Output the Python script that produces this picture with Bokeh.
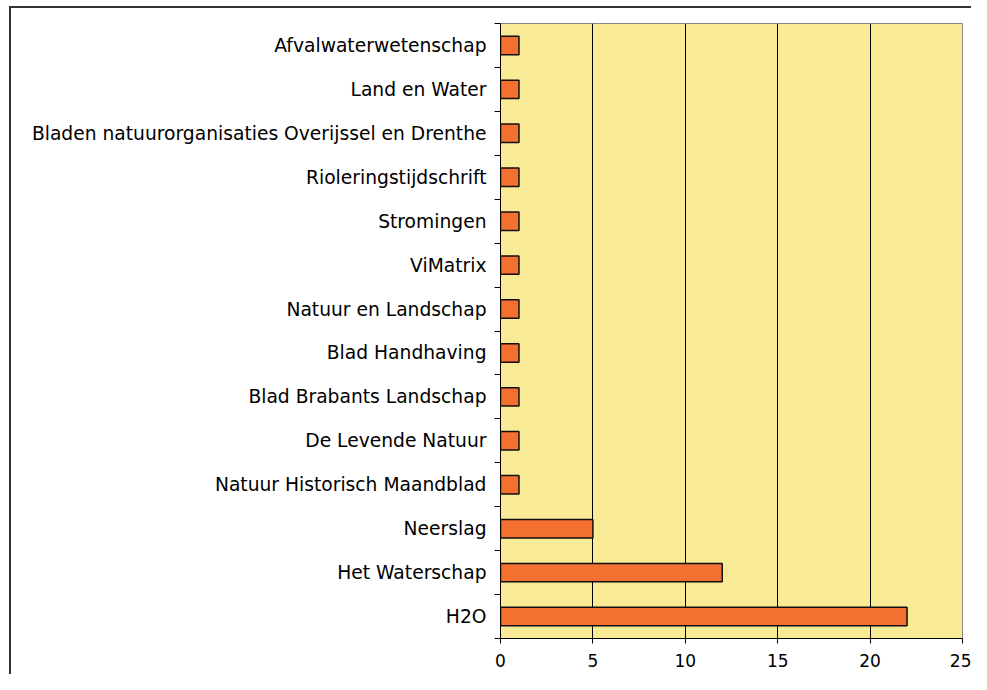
from bokeh.plotting import figure
from bokeh.models import FixedTicker, Range1d, ColumnDataSource
from bokeh.embed import file_html
from bokeh.resources import INLINE

categories = [
    "Afvalwaterwetenschap",
    "Land en Water",
    "Bladen natuurorganisaties Overijssel en Drenthe",
    "Rioleringstijdschrift",
    "Stromingen",
    "ViMatrix",
    "Natuur en Landschap",
    "Blad Handhaving",
    "Blad Brabants Landschap",
    "De Levende Natuur",
    "Natuur Historisch Maandblad",
    "Neerslag",
    "Het Waterschap",
    "H2O",
]
values = [1, 1, 1, 1, 1, 1, 1, 1, 1, 1, 1, 5, 12, 22]
x_ticks = [0, 5, 10, 15, 20, 25]

n = len(categories)
# top category first -> highest y position
ypos = [n - 1 - i + 0.5 for i in range(n)]
src = ColumnDataSource(dict(y=ypos, v=values, cat=categories))

FONT = "DejaVu Sans"

p = figure(width=971, height=674, output_backend="svg", toolbar_location=None,
           x_range=Range1d(0, 25), y_range=Range1d(0, n),
           min_border_left=500, min_border_right=9, min_border_top=23,
           min_border_bottom=36)

# outer chart border (only left and top edges fall inside the window)
p.styles = {
    "background": ("linear-gradient(#333,#333) 9px 6px / 2px 2000px no-repeat, "
                   "linear-gradient(#333,#333) 9px 6px / 3000px 2px no-repeat, white"),
}

p.background_fill_color = "#F9EA96"
p.border_fill_color = "white"
p.border_fill_alpha = 0
p.outline_line_color = "#888888"
p.outline_line_width = 1

p.hbar(y="y", right="v", left=0, height=0.42, source=src,
       fill_color="#F37030", line_color="#111111", line_width=1.5)

# x axis
p.xaxis.ticker = FixedTicker(ticks=x_ticks)
p.xaxis.major_tick_out = 5
p.xaxis.major_tick_in = 0
p.xaxis.minor_tick_line_color = None
p.xaxis.axis_line_color = "black"
p.xaxis.major_tick_line_color = "black"
p.xaxis.major_label_text_font = FONT
p.xaxis.major_label_text_font_size = "17px"
p.xaxis.major_label_text_color = "black"
p.xaxis.major_label_standoff = 10

# y axis: labels at centres, ticks at boundaries
p.yaxis.ticker = FixedTicker(ticks=ypos, minor_ticks=list(range(n + 1)))
p.yaxis.major_label_overrides = {y: c for y, c in zip(ypos, categories)}
p.yaxis.major_tick_line_color = None
p.yaxis.major_tick_out = 0
p.yaxis.major_tick_in = 0
p.yaxis.minor_tick_out = 6
p.yaxis.minor_tick_in = 0
p.yaxis.minor_tick_line_color = "black"
p.yaxis.axis_line_color = "black"
p.yaxis.major_label_text_font = FONT
p.yaxis.major_label_text_font_size = "18.7px"
p.yaxis.major_label_text_color = "black"
p.yaxis.major_label_standoff = 8

p.xgrid.ticker = FixedTicker(ticks=[5, 10, 15, 20])
p.xgrid.grid_line_color = "black"
p.xgrid.grid_line_width = 1
p.ygrid.grid_line_color = None

open("out.html", "w").write(file_html(p, INLINE))
